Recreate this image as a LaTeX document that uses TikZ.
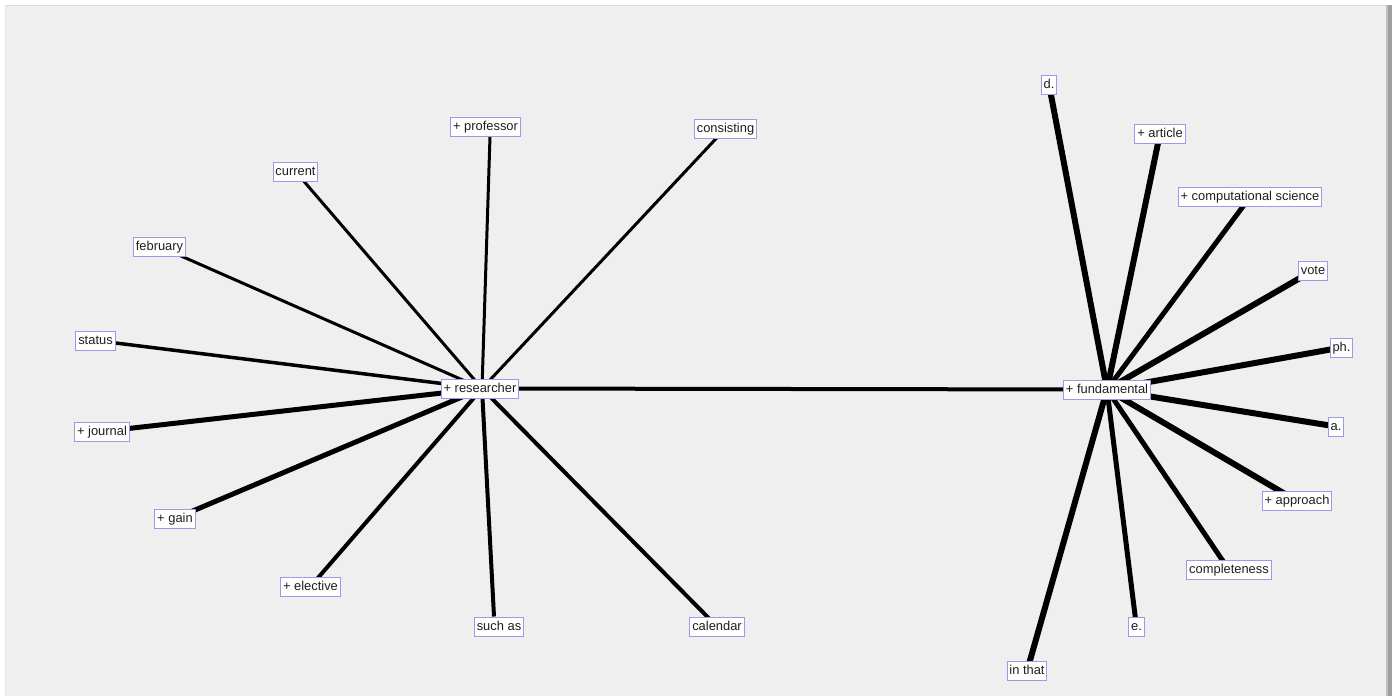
\documentclass[tikz,border=0pt]{standalone}
\usepackage{fontspec}
\setmainfont{Liberation Sans}
\usetikzlibrary{backgrounds}
\definecolor{panel}{HTML}{EFEFEF}
\definecolor{nodeborder}{HTML}{9A9AE6}
\definecolor{shadow}{HTML}{A0A0A0}
\pgfdeclarelayer{edges}
\pgfsetlayers{background,edges,main}
\begin{document}
\begin{tikzpicture}[x=1pt,y=-1pt,
  lbl/.style={draw=nodeborder,fill=white,line width=1pt,inner xsep=2.4pt,inner ysep=0pt,
    minimum height=19pt,text height=9.7pt,text depth=2.6pt,font=\fontsize{12.9}{14}\selectfont,text=black!88},
  link/.style={line width=#1,black,line cap=butt}]
\useasboundingbox (0,0) rectangle (1392,696);
% panel
\begin{pgfonlayer}{background}
\fill[white] (0,0) rectangle (1392,696);
\fill[panel] (5,5) rectangle (1387,696);
\draw[black!14,line width=1.5pt] (5,5.5) -- (1387,5.5);
\draw[black!10,line width=1pt] (5.5,5) -- (5.5,696);
\fill[shadow] (1387,5) rectangle (1392,696);
\fill[black!25] (1386,5) rectangle (1388,696);
\end{pgfonlayer}
% hubs
\node[lbl] (res) at (480,388.5) {+ researcher};
\node[lbl] (fun) at (1107,389.5) {+ fundamental};
% researcher neighbours
\node[lbl] (prof) at (485.5,126.5) {+ professor};
\node[lbl] (cons) at (725.5,128.5) {consisting};
\node[lbl] (curr) at (295.5,171.5) {current};
\node[lbl] (feb) at (159.5,246.5) {february};
\node[lbl] (stat) at (95.5,340.5) {status};
\node[lbl] (jour) at (102,431.5) {+ journal};
\node[lbl] (gain) at (175,518.5) {+ gain};
\node[lbl] (elec) at (310.5,586.5) {+ elective};
\node[lbl] (such) at (499,626.5) {such as};
\node[lbl] (cal) at (717,626.5) {calendar};
% fundamental neighbours
\node[lbl] (d) at (1049,84.5) {d.};
\node[lbl] (art) at (1160,133.5) {+ article};
\node[lbl] (comp) at (1250,197) {+ computational science};
\node[lbl] (vote) at (1313,270.5) {vote};
\node[lbl] (ph) at (1341.5,347.5) {ph.};
\node[lbl] (a) at (1336,426.5) {a.};
\node[lbl] (appr) at (1297,501) {+ approach};
\node[lbl] (compl) at (1229,570) {completeness};
\node[lbl] (e) at (1136.5,627) {e.};
\node[lbl] (inth) at (1027,671) {in that};
\begin{pgfonlayer}{edges}
\coordinate (rh) at ([xshift=2pt]res.center);
\draw[link=4pt] (rh) -- (fun.center);
\draw[link=3pt] (rh) -- ([xshift=4.5pt]prof.south);
\draw[link=3pt] (rh) -- (cons.center);
\draw[link=3pt] (rh) -- (curr.center);
\draw[link=3pt] (rh) -- (feb.center);
\draw[link=3.5pt] (rh) -- (stat.center);
\draw[link=5pt] (rh) -- (jour.center);
\draw[link=5pt] (rh) -- (gain.center);
\draw[link=4pt] (rh) -- (elec.center);
\draw[link=4pt] (rh) -- ([xshift=-5pt]such.north);
\draw[link=4pt] (rh) -- (cal.center);
\draw[link=6pt] (fun.center) -- (d.center);
\draw[link=6pt] (fun.center) -- (art.center);
\draw[link=5pt] (fun.center) -- (comp.center);
\draw[link=6pt] (fun.center) -- (vote.center);
\draw[link=6pt] (fun.center) -- (ph.center);
\draw[link=6pt] (fun.center) -- (a.center);
\draw[link=6pt] (fun.center) -- (appr.center);
\draw[link=5pt] (fun.center) -- (compl.center);
\draw[link=5pt] (fun.center) -- (e.center);
\draw[link=6pt] (fun.center) -- (inth.center);
\end{pgfonlayer}
\end{tikzpicture}
\end{document}
